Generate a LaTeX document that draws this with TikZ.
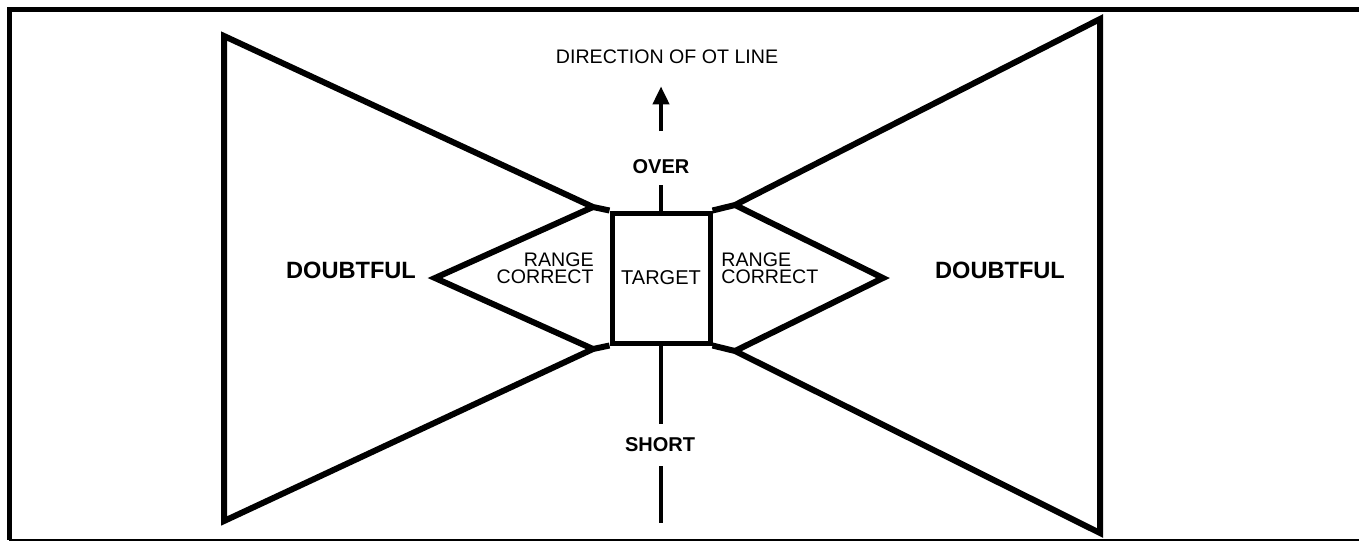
\documentclass[tikz,border=0pt]{standalone}
\usepackage{fontspec}
\setmainfont{Liberation Sans}
\usepackage{tikz}
\usetikzlibrary{arrows.meta,positioning}

\begin{document}
\begin{tikzpicture}[
  x=0.5pt, y=-0.5pt,
  wing/.style={line width=3pt, line join=miter},
  axis/.style={line width=2pt},
  pointer/.style={line width=2pt, -{Triangle[length=9pt,width=8pt]}},
  plain label/.style={font=\fontsize{9.8}{8.5}\selectfont, inner sep=0pt},
  bold label/.style={font=\fontsize{10}{12}\selectfont\bfseries, text depth=0pt},
  target box/.style={draw, line width=2.5pt, minimum width=49pt, minimum height=65pt,
    inner sep=0pt, font=\fontsize{10}{8.5}\selectfont}
]
  \useasboundingbox (0,0) rectangle (1359,543);

  % Frame
  \draw[line width=2.5pt] (1359,9) -- (9,9) -- (9,540);
  \draw[line width=1pt] (9,540) -- (1359,540);

  % Target and range correct zones
  \node[target box] (target) at (661,278) {TARGET};
  \coordinate (lt) at (593,207);
  \coordinate (lb) at (593,349);
  \coordinate (la) at (435,278);
  \coordinate (rt) at (735,205);
  \coordinate (rb) at (735,351);
  \coordinate (ra) at (883,278);

  % Doubtful wings
  \coordinate (lo1) at (224,36);
  \coordinate (lo2) at (224,521);
  \coordinate (ro1) at (1100,19);
  \coordinate (ro2) at (1100,533);
  \draw[wing] (target.north west) -- (lt) -- (lo1) -- (lo2) -- (lb) -- (target.south west);
  \draw[wing] (target.north east) -- (rt) -- (ro1) -- (ro2) -- (rb) -- (target.south east);
  \draw[wing] (lt) -- (la) -- (lb);
  \draw[wing] (rt) -- (ra) -- (rb);

  % Labels
  \node[plain label, align=right, anchor=east] (rcl) at (594,268) {RANGE\\CORRECT};
  \node[plain label, align=left, anchor=west] (rcr) at (721,268) {RANGE\\CORRECT};
  \node[bold label, font=\fontsize{11.8}{13}\selectfont\bfseries] (doubtl) at (351,270) {DOUBTFUL};
  \node[bold label, font=\fontsize{11.8}{13}\selectfont\bfseries] (doubtr) at (1000,270) {DOUBTFUL};
  \node[plain label, inner sep=3pt] (dir) at (667,57) {DIRECTION OF OT LINE};
  \node[bold label, inner sep=5.5pt] (over) at (661,167) {OVER};
  \node[bold label, inner sep=7pt] (short) at (660,445) {SHORT};

  % Line of target
  \coordinate (tail) at (661,131);
  \coordinate (foot) at (661,523);
  \draw[pointer, shorten >=8pt] (tail) -- (tail |- dir.south);
  \draw[axis] (over) -- (over |- target.north);
  \draw[axis] (target) -- (target |- short.north);
  \draw[axis] (target |- short.south) -- (foot);
\end{tikzpicture}
\end{document}
